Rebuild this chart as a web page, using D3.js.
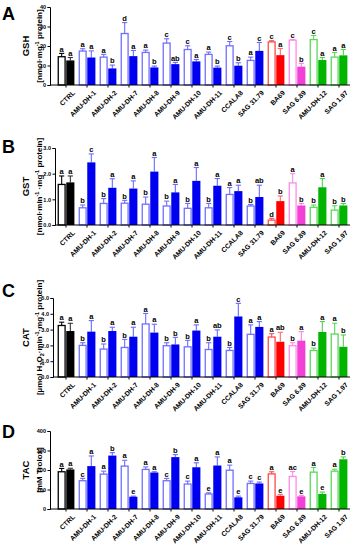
<!DOCTYPE html>
<html><head><meta charset="utf-8">
<script src="https://cdn.jsdelivr.net/npm/d3@7"></script>
<style>
body{margin:0;background:#fff;}
svg{display:block;font-family:"Liberation Sans",Arial,sans-serif;}
</style></head>
<body>
<svg id="chart" width="354" height="550"></svg>
<script>
const categories = ["CTRL","AMU-DH-1","AMU-DH-2","AMU-DH-7","AMU-DH-8","AMU-DH-9","AMU-DH-10","AMU-DH-11","CCALA8","SAG 31.79","BA69","SAG 6.89","AMU-DH-12","SAG 1.97"];

// Panel A: GSH
const gshOpen     = [14.5,17.4,14.3,26.4,16.7,21.5,18.2,15.7,20.1,12.6,22.1,23.0,23.3,14.3];
const gshOpenSD   = [1.7,1.2,1.4,5.6,1.2,2.2,1.9,1.2,2.2,1.7,0.6,0.3,2.1,2.4];
const gshFilled   = [12.6,14.1,8.5,14.8,9.0,10.7,12.1,8.9,9.9,17.5,15.3,9.4,12.8,15.2];
const gshFilledSD = [1.5,3.4,1.7,2.9,0.7,0.9,1.0,0.8,1.5,4.3,3.4,1.7,1.3,3.0];
const gshOpenLet  = ["a","a","a","d","a","c","c","a","c","a","c","c","c","a"];
const gshFillLet  = ["a","a","b","a","b","ab","a","b","b","c","a","b","a","a"];
const gshTicks    = [0,10,20,30,40];

// Panel B: GST
const gstOpen     = [1.58,0.67,0.84,0.85,0.81,0.74,0.65,0.67,1.19,0.74,0.19,1.64,0.69,0.58];
const gstOpenSD   = [0.33,0.11,0.19,0.11,0.28,0.19,0.19,0.17,0.27,0.06,0.07,0.36,0.09,0.17];
const gstFilled   = [1.66,2.44,1.45,1.42,2.08,1.27,1.72,1.53,1.32,1.09,0.93,0.76,1.47,0.76];
const gstFilledSD = [0.25,0.33,0.35,0.30,0.55,0.31,0.52,0.28,0.23,0.46,0.20,0.08,0.34,0.08];
const gstOpenLet  = ["a","b","b","b","b","b","b","b","a","b","d","a","b","b"];
const gstFillLet  = ["a","c","a","a","a","a","a","a","a","ab","b","b","a","b"];
const gstTicks    = [0,1,2,3];

// Panel C: CAT
const catOpen     = [3.26,2.0,1.77,1.87,3.36,1.98,1.91,1.74,1.68,2.70,2.53,1.98,1.68,2.72];
const catOpenSD   = [0.21,0.17,0.32,0.51,0.66,0.19,0.41,0.43,0.19,0.60,0.21,0.19,0.15,0.68];
const catFilled   = [2.91,2.87,2.91,2.55,2.81,2.06,2.94,2.55,3.83,3.17,2.23,2.30,2.85,1.91];
const catFilledSD = [0.49,0.70,0.24,0.60,0.53,0.45,0.36,0.43,0.83,0.34,0.60,0.57,0.66,0.75];
const catOpenLet  = ["a","b","b","b","a","b","b","b","b","a","a","b","b","a"];
const catFillLet  = ["a","a","a","a","a","b","a","ab","c","a","ab","a","a","b"];
const catTicks    = [0,1,2,3,4,5];

// Panel D: TAC
const tacOpen     = [191,145,179,220,203,145,128,77,199,131,180,167,189,194];
const tacOpenSD   = [17,12,15,30,13,12,15,6,26,12,11,25,24,10];
const tacFilled   = [203,220,274,63,187,266,214,223,60,131,68,65,77,255];
const tacFilledSD = [6,52,15,3,4,13,23,44,6,7,7,5,10,12];
const tacOpenLet  = ["a","c","a","a","a","c","c","e","a","c","a","ac","a","a"];
const tacFillLet  = ["a","a","b","e","a","b","a","a","e","c","e","e","e","b"];
const tacTicks    = [0,100,200,300,400];

// colour scheme by category family
const palette = {
  black: {fill:"#000000", open:"#000000", errOpen:"#000000", errFill:"#333333"},
  blue:  {fill:"#0000f0", open:"#6f6fff", errOpen:"#6f6fff", errFill:"#6a6aff"},
  red:   {fill:"#ff0000", open:"#ff4a4a", errOpen:"#ff4a4a", errFill:"#ff6a6a"},
  pink:  {fill:"#f23fd6", open:"#ff8ae8", errOpen:"#ff8ae8", errFill:"#ff80e6"},
  green: {fill:"#00b400", open:"#5ad85a", errOpen:"#5ad85a", errFill:"#50d050"}
};
function family(c){
  if(c==="CTRL") return "black";
  if(c==="BA69") return "red";
  if(c==="SAG 6.89") return "pink";
  if(c==="AMU-DH-12"||c==="SAG 1.97") return "green";
  return "blue";
}

const svg = d3.select("#chart");
const x0 = d3.scaleBand().domain(categories).range([55.5,349.5]).paddingInner(0.2).paddingOuter(0.1);
const x1 = d3.scaleBand().domain(["open","filled"]).range([0,x0.bandwidth()]).paddingInner(0.06);

const panels = [
  {letter:"A", top:7, bottom:85, axisX:50, max:40, ticks:gshTicks, open:gshOpen, openSD:gshOpenSD, filled:gshFilled, filledSD:gshFilledSD, ol:gshOpenLet, fl:gshFillLet,
   title:"GSH", unit:[["[nmol·mg"],["-1","sup"],[" protein]"]], letterY:20},
  {letter:"B", top:148, bottom:225, axisX:55, max:3, ticks:gstTicks, open:gstOpen, openSD:gstOpenSD, filled:gstFilled, filledSD:gstFilledSD, ol:gstOpenLet, fl:gstFillLet,
   title:"GST", unit:[["[nmol·min"],["-1","sup"],[" ·mg"],["-1","sup"],[" protein]"]], letterY:153},
  {letter:"C", top:298, bottom:377, axisX:53, max:5, ticks:catTicks, open:catOpen, openSD:catOpenSD, filled:catFilled, filledSD:catFilledSD, ol:catOpenLet, fl:catFillLet,
   title:"CAT", unit:[["[µmol H"],["2","sub"],["O"],["2","sub"],["·min"],["-1","sup"],["·mg"],["-1","sup"],[" protein]"]], letterY:297},
  {letter:"D", top:431, bottom:509, axisX:50, max:400, ticks:tacTicks, open:tacOpen, openSD:tacOpenSD, filled:tacFilled, filledSD:tacFilledSD, ol:tacOpenLet, fl:tacFillLet,
   title:"TAC", unit:[["[mM Trolox]"]], letterY:438}
];

panels.forEach(p=>{
  const y = d3.scaleLinear().domain([0,p.max]).range([p.bottom,p.top]);
  const g = svg.append("g");

  // panel letter
  svg.append("text").attr("x",2).attr("y",p.letterY).attr("font-size",18).attr("font-weight","bold").text(p.letter);

  // y axis title
  const mid = (p.top+p.bottom)/2;
  svg.append("text").attr("transform",`translate(28.5,${mid}) rotate(-90)`).attr("text-anchor","middle")
     .attr("font-size",9.5).attr("font-weight","bold").text(p.title);
  const ut = svg.append("text").attr("transform",`translate(41.5,${mid}) rotate(-90)`).attr("text-anchor","middle")
     .attr("font-size",8).attr("font-weight","bold");
  let shift = 0;
  p.unit.forEach(seg=>{
    const ts = ut.append("tspan").text(seg[0]);
    if(seg[1]==="sup"){ ts.attr("dy",-3-shift).attr("font-size",5.5); shift=-3; }
    else if(seg[1]==="sub"){ ts.attr("dy",2-shift).attr("font-size",5.5); shift=2; }
    else { if(shift!==0){ ts.attr("dy",-shift); shift=0; } }
  });

  // bars
  categories.forEach((c,i)=>{
    const pal = palette[family(c)];
    const bx = x0(c);
    [["open",p.open[i],p.openSD[i],p.ol[i]],["filled",p.filled[i],p.filledSD[i],p.fl[i]]].forEach(([k,v,sd,lt])=>{
      const xx = bx + x1(k), w = x1.bandwidth();
      const isOpen = k==="open";
      const errCol = isOpen?pal.errOpen:pal.errFill;
      const cx = xx + w/2;
      g.append("line").attr("x1",cx).attr("x2",cx).attr("y1",y(v)).attr("y2",y(v+sd)).attr("stroke",errCol).attr("stroke-width",1.1);
      g.append("line").attr("x1",cx-2.6).attr("x2",cx+2.6).attr("y1",y(v+sd)).attr("y2",y(v+sd)).attr("stroke",errCol).attr("stroke-width",1.1);
      if(isOpen){
        g.append("rect").attr("x",xx+0.65).attr("y",y(v)).attr("width",w-1.3).attr("height",y(0)-y(v))
         .attr("fill","#fff").attr("stroke",pal.open).attr("stroke-width",1.3);
      } else {
        g.append("rect").attr("x",xx).attr("y",y(v)).attr("width",w).attr("height",y(0)-y(v)).attr("fill",pal.fill);
      }
      g.append("text").attr("x",cx).attr("y",y(v+sd)-1.8).attr("text-anchor","middle")
       .attr("font-size",7.5).attr("font-weight","bold").text(lt);
    });
  });

  // y axis
  const yAxis = d3.axisLeft(y).tickValues(p.ticks).tickSize(2.5).tickPadding(1.5);
  const ya = svg.append("g").attr("transform",`translate(${p.axisX},0)`).call(yAxis);
  ya.select(".domain").attr("stroke","#000").attr("stroke-width",1);
  ya.selectAll(".tick line").attr("stroke","#000");
  ya.selectAll("text").attr("font-size",5.5).attr("font-weight","bold").attr("font-family","Liberation Sans, Arial, sans-serif");

  // x axis
  const xa = svg.append("g").attr("transform",`translate(0,${p.bottom})`);
  xa.append("line").attr("x1",p.axisX).attr("x2",350).attr("y1",0).attr("y2",0).attr("stroke","#000").attr("stroke-width",1);
  const xAxis = d3.axisBottom(x0).tickSize(2.5).tickSizeOuter(0);
  const xg = svg.append("g").attr("transform",`translate(0,${p.bottom})`).call(xAxis);
  xg.select(".domain").remove();
  xg.selectAll(".tick text").attr("font-size",6.8).attr("font-weight","bold")
    .attr("font-family","Liberation Sans, Arial, sans-serif")
    .attr("text-anchor","end").attr("transform","translate(3,2) rotate(-45)").attr("dy","0.75em").attr("y",4).attr("x",0);
});
</script>
</body></html>
